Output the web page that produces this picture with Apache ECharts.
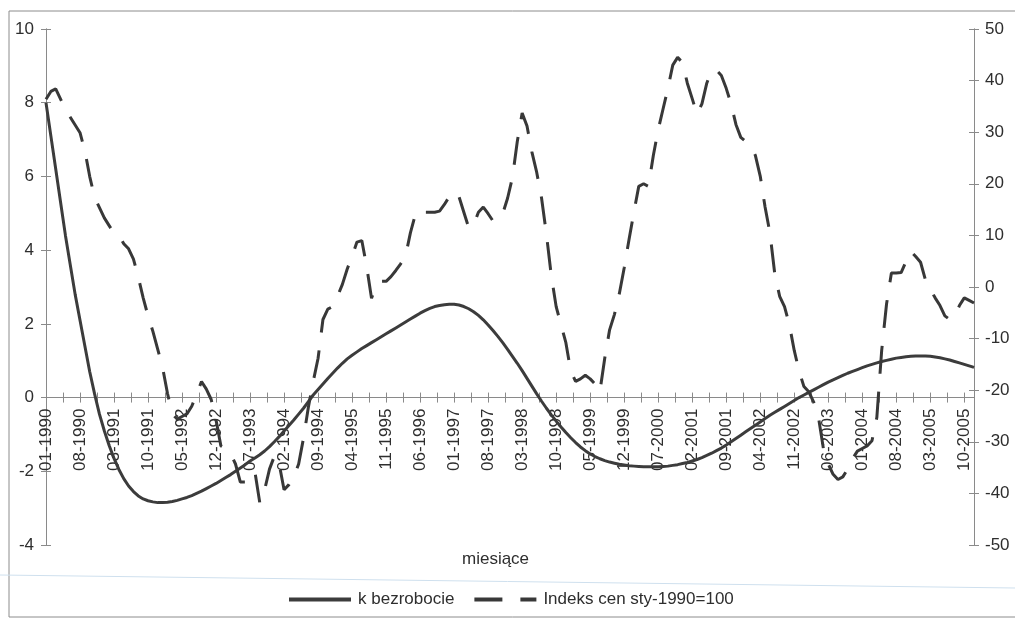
<!DOCTYPE html>
<html>
<head>
<meta charset="utf-8">
<script src="https://cdn.jsdelivr.net/npm/echarts@6/dist/echarts.min.js"></script>
<style>html,body{margin:0;padding:0;background:#fff}#c{width:1015px;height:621px}</style>
</head>
<body>
<div id="c"></div>
<script>
// month labels shown every 7 months (index 0 = 01-1990, last data index 191 = 12-2005)
var tickLabels = ['01-1990','08-1990','03-1991','10-1991','05-1992','12-1992','07-1993','02-1994','09-1994','04-1995','11-1995','06-1996','01-1997','08-1997','03-1998','10-1998','05-1999','12-1999','07-2000','02-2001','09-2001','04-2002','11-2002','06-2003','01-2004','08-2004','03-2005','10-2005'];

// k bezrobocie (left axis), monthly 01-1990 .. 12-2005
var kBezrobocie = [
 8.0,7.1,6.2,5.3,4.4,3.6,2.8,2.1,1.4,0.7,
 0.1,-0.45,-0.9,-1.3,-1.65,-1.95,-2.2,-2.4,-2.55,-2.67,
 -2.75,-2.8,-2.83,-2.85,-2.85,-2.84,-2.82,-2.79,-2.75,-2.71,
 -2.66,-2.6,-2.54,-2.47,-2.4,-2.33,-2.25,-2.17,-2.09,-2.0,
 -1.91,-1.82,-1.72,-1.64,-1.55,-1.45,-1.33,-1.2,-1.06,-0.91,
 -0.76,-0.61,-0.45,-0.29,-0.11,0.07,0.22,0.37,0.52,0.66,
 0.8,0.93,1.05,1.15,1.24,1.33,1.41,1.49,1.57,1.65,
 1.73,1.81,1.89,1.97,2.05,2.13,2.21,2.29,2.36,2.42,
 2.47,2.5,2.52,2.53,2.53,2.51,2.47,2.41,2.33,2.23,
 2.11,1.97,1.82,1.66,1.49,1.31,1.12,0.93,0.73,0.52,
 0.31,0.1,-0.1,-0.29,-0.47,-0.64,-0.8,-0.95,-1.09,-1.22,
 -1.34,-1.44,-1.53,-1.6,-1.66,-1.71,-1.75,-1.78,-1.81,-1.83,
 -1.85,-1.86,-1.87,-1.88,-1.88,-1.88,-1.88,-1.87,-1.86,-1.84,
 -1.82,-1.79,-1.76,-1.72,-1.68,-1.63,-1.57,-1.51,-1.44,-1.37,
 -1.29,-1.2,-1.11,-1.02,-0.93,-0.84,-0.75,-0.66,-0.57,-0.48,
 -0.4,-0.32,-0.24,-0.16,-0.08,0.0,0.07,0.14,0.21,0.28,
 0.35,0.42,0.48,0.54,0.6,0.66,0.71,0.76,0.81,0.86,
 0.9,0.94,0.98,1.01,1.04,1.07,1.09,1.11,1.12,1.13,
 1.13,1.13,1.12,1.1,1.08,1.05,1.02,0.98,0.94,0.9,
 0.86,0.82
];

// Indeks cen sty-1990=100 (right axis), monthly 01-1990 .. 12-2005
var indeksCen = [
 36.4,37.9,38.4,36.4,34.4,32.9,31.4,29.9,26.4,21.4,
 17.4,15.4,13.4,11.9,10.4,9.9,8.4,7.4,5.4,1.9,
 -2.1,-5.6,-8.6,-12.1,-15.6,-20.6,-24.6,-25.6,-25.1,-24.6,
 -23.1,-20.8,-18.3,-19.8,-21.8,-25.8,-30.8,-31.3,-32.3,-34.3,
 -37.8,-37.8,-36.3,-35.8,-41.8,-39.3,-35.3,-32.8,-34.3,-39.3,
 -38.3,-36.8,-34.3,-29.3,-23.3,-18.3,-13.8,-6.3,-4.3,-3.8,
 -1.8,0.5,3.5,6,8.7,9,4,-2.2,0.5,1.1,
 1.1,2,3.2,4.5,6,10.5,14,15,14.5,14.5,
 14.5,14.7,16,17.5,18.5,17.5,14.5,11.5,12,14.5,
 15.5,14.2,12.8,13.2,14.2,17.2,21.2,28.2,33.7,31.2,
 26.2,22.2,17.2,10.2,2.2,-3.8,-7.3,-10.8,-16.3,-18.3,
 -17.8,-17.1,-17.8,-18.8,-20.3,-13.8,-8.3,-5.3,-1.3,3.7,
 9.2,14.5,19.5,20,19.5,25.5,30.5,34.5,38.5,43,
 44.5,43.5,39.5,36.5,33.5,35.5,39.5,42,42,41,
 38.5,35.5,31.5,29,28.2,27.5,25.5,21.5,15.5,10.5,
 2.5,-1.8,-3.8,-7.3,-12.3,-16.3,-19.3,-20.3,-22.3,-25.3,
 -31.3,-34.3,-36.3,-37.3,-36.8,-35.3,-33.3,-31.8,-31.3,-30.8,
 -29.8,-25.3,-12.3,-3.3,2.7,2.7,2.8,4.9,6.9,5.9,
 4.8,1.4,-0.4,-2.1,-3.6,-5.6,-6.3,-5.7,-3.6,-2.1,
 -2.6,-3.1
];

var axisGray = '#8a8a8a';
var textCol = '#2e2e2e';
var fontFam = '"Liberation Sans", Arial, sans-serif';
var GRID_TOP = 29, GRID_BOTTOM = 76, H = 621;
var plotH = H - GRID_TOP - GRID_BOTTOM;
var zeroOffset = -plotH * (0 - (-4)) / (10 - (-4)); // x axis sits on left-axis zero

function xLabel(v) {
  if (Math.abs(v / 7 - Math.round(v / 7)) < 1e-6) {
    var k = Math.round(v / 7);
    return tickLabels[k] || '';
  }
  return '';
}

function mkX(inside, showLabel) {
  return {
    type: 'value', min: 0, max: 191, interval: 3.5, position: 'bottom', offset: zeroOffset,
    axisLine: { show: true, onZero: false, lineStyle: { color: axisGray, width: 1 } },
    axisTick: { show: true, inside: inside, length: 5, lineStyle: { color: axisGray } },
    axisLabel: { show: showLabel, rotate: 90, margin: 11, formatter: xLabel, fontSize: 17, color: textCol, fontFamily: fontFam },
    splitLine: { show: false }
  };
}
function mkY(pos, min, max, step, inside, showLabel, margin) {
  return {
    type: 'value', position: pos, min: min, max: max, interval: step,
    axisLine: { show: true, onZero: false, lineStyle: { color: axisGray, width: 1 } },
    axisTick: { show: true, inside: inside, length: 5, lineStyle: { color: axisGray } },
    axisLabel: { show: showLabel, margin: margin, fontSize: 17, color: textCol, fontFamily: fontFam },
    splitLine: { show: false }
  };
}

var chart = echarts.init(document.getElementById('c'), null, { renderer: 'canvas' });
chart.setOption({
  backgroundColor: '#fff',
  animation: false,
  grid: { left: 46, right: 41, top: GRID_TOP, bottom: GRID_BOTTOM, containLabel: false },
  xAxis: [mkX(false, true), mkX(true, false)],
  yAxis: [
    mkY('left', -4, 10, 2, false, true, 12),
    mkY('right', -50, 50, 10, false, true, 11),
    mkY('left', -4, 10, 2, true, false, 12),
    mkY('right', -50, 50, 10, true, false, 11)
  ],
  legend: {
    left: 282, top: 586,
    itemWidth: 62, itemHeight: 14, itemGap: 18,
    itemStyle: { opacity: 0 },
    lineStyle: { width: 4 },
    textStyle: { fontSize: 17, color: textCol, fontFamily: fontFam, padding: [0, 0, 0, 2] },
    data: ['k bezrobocie', 'Indeks cen sty-1990=100']
  },
  graphic: [
    { type: 'rect', silent: true, z: -1, shape: { x: 9, y: 11, width: 1020, height: 606 },
      style: { fill: 'none', stroke: '#8c8c8c', lineWidth: 1 } },
    { type: 'line', silent: true, shape: { x1: 0, y1: 575, x2: 1015, y2: 588 },
      style: { stroke: '#cfe0ee', lineWidth: 1 } },
    { type: 'text', left: 462, top: 551, style: { text: 'miesiące', fontSize: 17, fill: textCol, fontFamily: fontFam } }
  ],
  series: [
    {
      name: 'k bezrobocie', type: 'line', xAxisIndex: 0, yAxisIndex: 0,
      data: kBezrobocie.map(function (v, i) { return [i, v]; }),
      symbol: 'none', smooth: false,
      lineStyle: { color: '#3c3c3c', width: 3 },
      itemStyle: { color: '#3c3c3c' }
    },
    {
      name: 'Indeks cen sty-1990=100', type: 'line', xAxisIndex: 0, yAxisIndex: 1,
      data: indeksCen.map(function (v, i) { return [i, v]; }),
      symbol: 'none', smooth: false,
      lineStyle: { color: '#383838', width: 3, type: [28, 18], cap: 'butt' },
      itemStyle: { color: '#383838' }
    }
  ]
});
</script>
</body>
</html>
